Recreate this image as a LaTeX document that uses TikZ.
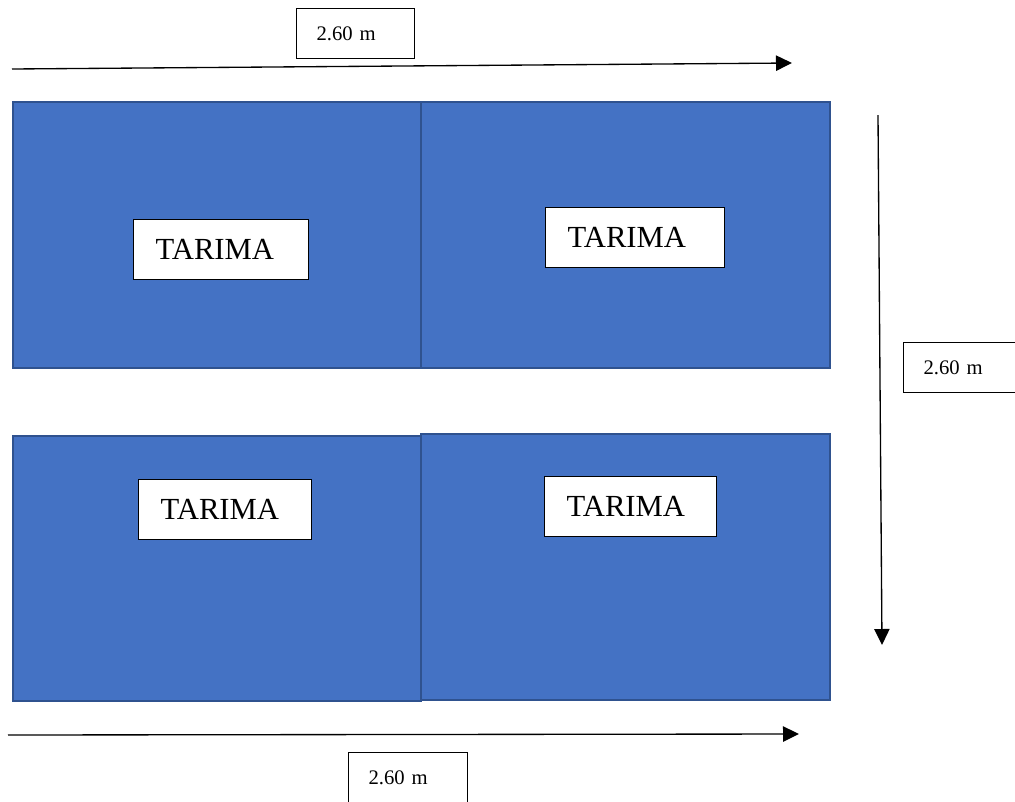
\documentclass[tikz,border=0pt]{standalone}
\usepackage{fontspec}
\setmainfont{Liberation Serif}
\usetikzlibrary{arrows.meta}
\definecolor{panelfill}{HTML}{4472C4}
\definecolor{paneledge}{HTML}{2F528F}
\begin{document}
\begin{tikzpicture}[x=0.75pt,y=-0.75pt,
  panel/.style={draw=paneledge, fill=panelfill, line width=2pt},
  tag/.style={draw=black, fill=white, line width=0.9pt, anchor=north west,
    inner ysep=0pt, align=left, minimum height=45pt, inner xsep=16.5pt,
    font=\fontsize{23}{27}\selectfont},
  dim/.style={draw=black, fill=white, line width=0.9pt, anchor=north west,
    inner ysep=0pt, align=left, minimum height=37.5pt, inner xsep=15pt,
    font=\fontsize{15.5}{18}\selectfont},
  dimline/.style={draw=black, line width=1pt, -{Triangle[length=12pt,width=11.5pt]}}]
\useasboundingbox (0,0) rectangle (1015,801);
\clip (0,0) rectangle (1015,801);

% four platform panels
\draw[panel] (13,102) rectangle (421,368);
\draw[panel] (421,102) rectangle (830,368);
\draw[panel] (13,436) rectangle (421,701);
\draw[panel] (421,434) rectangle (830,700);

% panel labels
\node[tag, text width=98.25pt]  (tl) at (133,219) {TARIMA};
\node[tag, text width=101.25pt] (tr) at (545,207) {TARIMA};
\node[tag, text width=96.75pt]  (bl) at (138,479) {TARIMA};
\node[tag, text width=96pt]     (br) at (544,476) {TARIMA};

% dimension lines
\coordinate (t0) at (12,69);
\coordinate (t1) at (792,63);
\coordinate (r0) at (878,115);
\coordinate (r1) at (882,645);
\coordinate (b0) at (8,735);
\coordinate (b1) at (799,734);
\draw[dimline] (t0) -- (t1);
\draw[dimline] (r0) -- (r1);
\draw[dimline] (b0) -- (b1);

% dimension labels
\node[dim, text width=58.5pt] (dtop) at (296,8) {2.60 m};
\node[dim, text width=67.5pt] (dright) at (903,342) {2.60 m};
\node[dim, text width=59.25pt] (dbot) at (348,752) {2.60 m};
\end{tikzpicture}
\end{document}
